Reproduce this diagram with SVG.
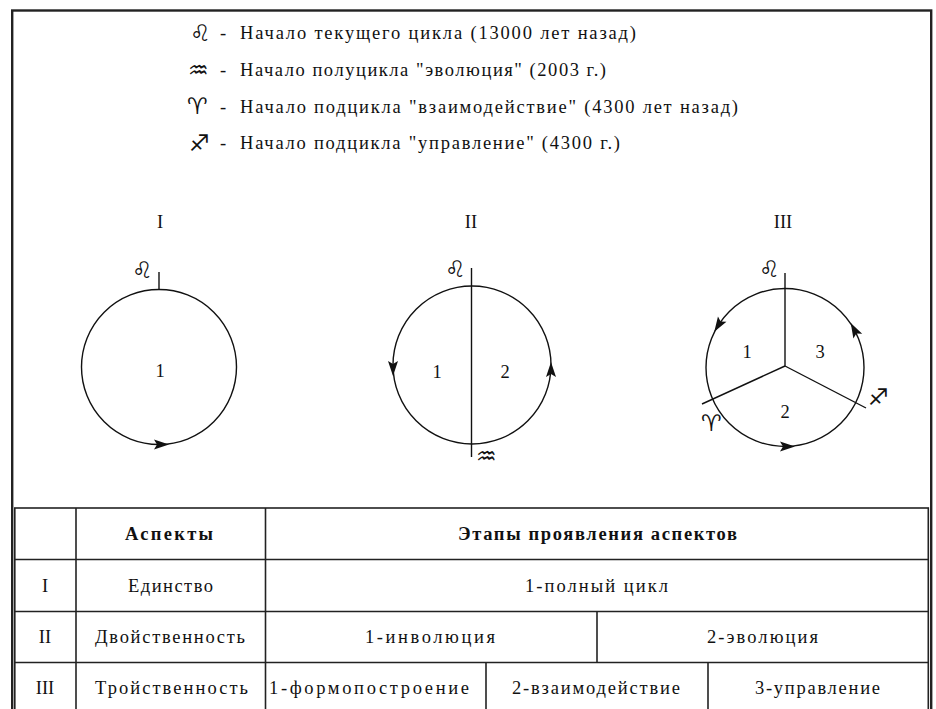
<svg xmlns="http://www.w3.org/2000/svg" width="936" height="709" viewBox="0 0 936 709">
<defs>
<style>
.t{font-family:"Liberation Serif","Times New Roman",serif;font-size:18.5px;fill:#111}
.b{font-weight:bold}
.c{text-anchor:middle}
.sym{font-family:"DejaVu Sans",sans-serif;font-weight:200;font-size:23px;fill:#111;text-anchor:middle}
.ln{stroke:#111;stroke-width:1.4;fill:none}
.tb{stroke:#222;stroke-width:1.6;fill:none}
.ar{fill:#111}
</style>
<path id="ah" d="M8,0 L-7,-5 L-4,0 L-7,5 Z"/>
</defs>
<rect width="936" height="709" fill="#fff"/>
<rect x="12.2" y="10.5" width="919" height="720" fill="none" stroke="#222" stroke-width="2.4"/>

<g id="legend">
<text class="sym" x="200" y="41">♌︎</text>
<text class="t" x="220" y="39">-</text>
<text class="t" x="240" y="39" textLength="396" lengthAdjust="spacing">Начало текущего цикла (13000 лет назад)</text>
<text class="sym" x="198" y="78">♒︎</text>
<text class="t" x="220" y="76">-</text>
<text class="t" x="240" y="76" textLength="366" lengthAdjust="spacing">Начало полуцикла "эволюция" (2003 г.)</text>
<text class="sym" x="197" y="114">♈︎</text>
<text class="t" x="220" y="112.5">-</text>
<text class="t" x="240" y="112.5" textLength="498" lengthAdjust="spacing">Начало подцикла "взаимодействие" (4300 лет назад)</text>
<text class="sym" x="199" y="151">♐︎</text>
<text class="t" x="220" y="149">-</text>
<text class="t" x="240" y="149" textLength="380" lengthAdjust="spacing">Начало подцикла "управление" (4300 г.)</text>
</g>

<g id="diagram-I">
<text class="t c" x="160" y="228">I</text>
<circle class="ln" cx="159" cy="367" r="77.5"/>
<line class="ln" x1="159" y1="272" x2="159" y2="289.5"/>
<text class="sym" x="142" y="278">♌︎</text>
<text class="t c" x="160" y="377">1</text>
<use href="#ah" class="ar" transform="translate(161,444.5)"/>
</g>

<g id="diagram-II">
<text class="t c" x="471" y="228">II</text>
<circle class="ln" cx="472" cy="365" r="79"/>
<text class="sym" x="455" y="277">♌︎</text>
<text class="sym" x="486" y="464">♒︎</text>
<text class="t c" x="437" y="378">1</text>
<text class="t c" x="505" y="378">2</text>
<use href="#ah" class="ar" transform="translate(393,368) rotate(90)"/>
<use href="#ah" class="ar" transform="translate(551,370) rotate(-90)"/>
</g>

<g id="diagram-III">
<text class="t c" x="783" y="228">III</text>
<circle class="ln" cx="785" cy="367.5" r="79"/>
<text class="sym" x="769" y="277">♌︎</text>
<text class="sym" x="711" y="431">♈︎</text>
<text class="sym" x="878" y="405">♐︎</text>
<text class="t c" x="747" y="358">1</text>
<text class="t c" x="820" y="358">3</text>
<text class="t c" x="785" y="418">2</text>
<use href="#ah" class="ar" transform="translate(718.5,325) rotate(122)"/>
<use href="#ah" class="ar" transform="translate(854.5,330) rotate(-118)"/>
<use href="#ah" class="ar" transform="translate(787,446.5)"/>
</g>

<g id="connectors">
<line class="ln" x1="471.5" y1="268" x2="471.5" y2="457"/>
<line class="ln" x1="785" y1="273" x2="785" y2="366"/>
<line class="ln" x1="785" y1="366" x2="702" y2="404"/>
<line class="ln" x1="785" y1="366" x2="866" y2="408"/>
</g>

<g id="table">
<rect class="tb" x="14.8" y="508" width="913.5" height="230"/>
<line class="tb" x1="14.8" y1="559.5" x2="928.3" y2="559.5"/>
<line class="tb" x1="14.8" y1="611.5" x2="928.3" y2="611.5"/>
<line class="tb" x1="14.8" y1="662.5" x2="928.3" y2="662.5"/>
<line class="tb" x1="76" y1="508" x2="76" y2="709"/>
<line class="tb" x1="265.5" y1="508" x2="265.5" y2="709"/>
<line class="tb" x1="597" y1="611.5" x2="597" y2="662.5"/>
<line class="tb" x1="486" y1="662.5" x2="486" y2="709"/>
<line class="tb" x1="708" y1="662.5" x2="708" y2="709"/>
<text class="t b c" x="169" y="540" textLength="88" lengthAdjust="spacing">Аспекты</text>
<text class="t b c" x="597.5" y="540" textLength="279" lengthAdjust="spacing">Этапы проявления аспектов</text>
<text class="t c" x="45" y="592">I</text>
<text class="t c" x="170.5" y="592" textLength="85" lengthAdjust="spacing">Единство</text>
<text class="t c" x="596.5" y="592" textLength="143" lengthAdjust="spacing">1-полный цикл</text>
<text class="t c" x="45" y="643">II</text>
<text class="t c" x="170" y="643" textLength="150" lengthAdjust="spacing">Двойственность</text>
<text class="t c" x="430" y="643" textLength="130" lengthAdjust="spacing">1-инволюция</text>
<text class="t c" x="762.5" y="643" textLength="111" lengthAdjust="spacing">2-эволюция</text>
<text class="t c" x="45" y="694">III</text>
<text class="t c" x="171.5" y="694" textLength="153" lengthAdjust="spacing">Тройственность</text>
<text class="t c" x="369" y="694" textLength="200" lengthAdjust="spacing">1-формопостроение</text>
<text class="t c" x="596" y="694" textLength="168" lengthAdjust="spacing">2-взаимодействие</text>
<text class="t c" x="817.5" y="694" textLength="125" lengthAdjust="spacing">3-управление</text>
</g>
</svg>
